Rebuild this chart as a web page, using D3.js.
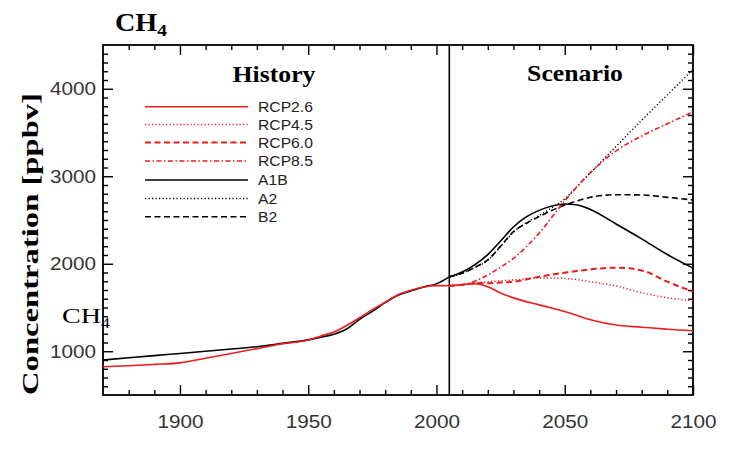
<!DOCTYPE html>
<html>
<head>
<meta charset="utf-8">
<script src="https://cdn.jsdelivr.net/npm/d3@7"></script>
<style>
html,body{margin:0;padding:0;background:#fff;}
svg{display:block;}
</style>
</head>
<body>
<svg id="chart" width="747" height="453"></svg>
<script>
// ---------------- data ----------------
const histYears = [1870,1880,1890,1900,1910,1920,1930,1940,1950,1955,1960,1965,1970,1975,1980,1985,1990,1995,2000,2005];
const histRed   = [823,835,850,867,920,975,1030,1085,1128,1175,1220,1295,1383,1475,1560,1645,1697,1735,1750,1748];
const histBlack = [900,925,950,975,1000,1025,1052,1090,1130,1160,1195,1255,1365,1455,1555,1640,1690,1735,1770,1850];

const rcpYears = [2005,2010,2015,2020,2025,2030,2040,2050,2060,2070,2080,2090,2100];
const rcp26 = [1748,1760,1772,1738,1665,1610,1530,1455,1360,1300,1275,1252,1235];
const rcp45 = [1748,1760,1782,1795,1805,1814,1838,1832,1795,1746,1669,1612,1578];
const rcp60 = [1748,1760,1776,1778,1785,1795,1852,1898,1936,1955,1924,1795,1681];
const rcp85 = [1748,1760,1800,1871,1960,2062,2348,2720,3040,3290,3460,3600,3735];

const sresYears = [2005,2010,2015,2020,2025,2030,2035,2040,2045,2050,2055,2060,2070,2080,2090,2100];
const a1b = [1850,1905,1990,2105,2260,2420,2535,2610,2660,2683,2672,2620,2455,2285,2105,1950];
const a2  = [1850,1890,1960,2040,2200,2360,2470,2550,2640,2740,2890,3040,3340,3640,3930,4220];
const b2  = [1850,1890,1960,2043,2200,2367,2460,2538,2610,2671,2720,2759,2789,2786,2759,2729];

const xMajor = [1900,1950,2000,2050,2100];
const yMajor = [1000,2000,3000,4000];
const scenarioNames = ["RCP2.6","RCP4.5","RCP6.0","RCP8.5","A1B","A2","B2"];

// ---------------- setup ----------------
const RED = "#ee1c1c";
const svg = d3.select("#chart");
const L = 103, R = 693, T = 45, B = 395;
const x = d3.scaleLinear().domain([1870, 2100]).range([L, R]);
const y = d3.scaleLinear().domain([500, 4500]).range([B, T]);

const xMinor = d3.range(1880, 2100, 10).filter(v => !xMajor.includes(v));
const yMinor = d3.range(600, 4500, 100).filter(v => !yMajor.includes(v));

const SX = 1.12; // horizontal stretch of text in the reference
const sans = "'Liberation Sans', Arial, Helvetica, sans-serif";
const serif = "'Liberation Serif', 'Times New Roman', serif";

// ---------------- axes ----------------
function styleAxis(g) {
  g.select(".domain").remove();
  g.selectAll(".tick line").attr("stroke", "#000").attr("stroke-width", 1.4);
}
// bottom
svg.append("g").attr("transform", `translate(0,${B})`)
  .call(d3.axisBottom(x).tickValues(xMajor).tickSize(-10).tickPadding(20).tickFormat(d3.format("d")))
  .call(styleAxis)
  .call(g => g.selectAll("text")
    .attr("font-family", sans).attr("font-size", 18.5).attr("fill", "#333")
    .attr("transform", `scale(${SX},1)`));
svg.append("g").attr("transform", `translate(0,${B})`)
  .call(d3.axisBottom(x).tickValues(xMinor).tickSize(-5).tickFormat(""))
  .call(styleAxis);
// top
svg.append("g").attr("transform", `translate(0,${T})`)
  .call(d3.axisTop(x).tickValues(xMajor).tickSize(-10).tickFormat(""))
  .call(styleAxis);
svg.append("g").attr("transform", `translate(0,${T})`)
  .call(d3.axisTop(x).tickValues(xMinor).tickSize(-5).tickFormat(""))
  .call(styleAxis);
// left
svg.append("g").attr("transform", `translate(${L},0)`)
  .call(d3.axisLeft(y).tickValues(yMajor).tickSize(-10).tickPadding(7).tickFormat(d3.format("d")))
  .call(styleAxis)
  .call(g => g.selectAll("text")
    .attr("font-family", sans).attr("font-size", 18.5).attr("fill", "#333")
    .attr("x", -7 / SX)
    .attr("transform", `scale(${SX},1)`));
svg.append("g").attr("transform", `translate(${L},0)`)
  .call(d3.axisLeft(y).tickValues(yMinor).tickSize(-5).tickFormat(""))
  .call(styleAxis);
// right
svg.append("g").attr("transform", `translate(${R},0)`)
  .call(d3.axisRight(y).tickValues(yMajor).tickSize(-10).tickFormat(""))
  .call(styleAxis);
svg.append("g").attr("transform", `translate(${R},0)`)
  .call(d3.axisRight(y).tickValues(yMinor).tickSize(-5).tickFormat(""))
  .call(styleAxis);

// frame
svg.append("rect").attr("x", L).attr("y", T).attr("width", R - L).attr("height", B - T)
  .attr("fill", "none").attr("stroke", "#000").attr("stroke-width", 1.8);

// divider at 2005
svg.append("line").attr("x1", x(2005)).attr("x2", x(2005)).attr("y1", T).attr("y2", B)
  .attr("stroke", "#000").attr("stroke-width", 1.6);

// ---------------- lines ----------------
const styles = {
  "RCP2.6": {color: RED, dash: null, w: 1.6},
  "RCP4.5": {color: RED, dash: "1.2,2.3", w: 1.5},
  "RCP6.0": {color: RED, dash: "6,3.5", w: 2},
  "RCP8.5": {color: RED, dash: "5,2.5,1.5,2.5", w: 1.6},
  "A1B":    {color: "#000", dash: null, w: 1.6},
  "A2":     {color: "#000", dash: "1.2,2.3", w: 1.4},
  "B2":     {color: "#000", dash: "6,3.5", w: 1.6}
};
const seriesData = {
  "RCP2.6": [rcpYears, rcp26],
  "RCP4.5": [rcpYears, rcp45],
  "RCP6.0": [rcpYears, rcp60],
  "RCP8.5": [rcpYears, rcp85],
  "A1B": [sresYears, a1b],
  "A2": [sresYears, a2],
  "B2": [sresYears, b2]
};
const line = d3.line().x(d => x(d[0])).y(d => y(d[1])).curve(d3.curveMonotoneX);
const zip = (xs, ys) => xs.map((v, i) => [v, ys[i]]);

const plot = svg.append("g");
plot.append("path").attr("d", line(zip(histYears, histBlack)))
  .attr("fill", "none").attr("stroke", "#000").attr("stroke-width", 1.6);
plot.append("path").attr("d", line(zip(histYears, histRed)))
  .attr("fill", "none").attr("stroke", RED).attr("stroke-width", 1.6);

["B2","A2","A1B","RCP6.0","RCP4.5","RCP8.5","RCP2.6"].forEach(name => {
  const s = styles[name];
  const [xs, ys] = seriesData[name];
  plot.append("path").attr("d", line(zip(xs, ys)))
    .attr("fill", "none").attr("stroke", s.color).attr("stroke-width", s.w)
    .attr("stroke-dasharray", s.dash);
});

// ---------------- legend ----------------
const legRows = [106.7, 124.5, 142.5, 161, 180, 198.5, 216.7];
const leg = svg.append("g");
scenarioNames.forEach((name, i) => {
  const s = styles[name];
  leg.append("line").attr("x1", 145).attr("x2", 248).attr("y1", legRows[i]).attr("y2", legRows[i])
    .attr("stroke", s.color).attr("stroke-width", s.w).attr("stroke-dasharray", s.dash);
  leg.append("text").attr("transform", `translate(258,${legRows[i] + 5.3}) scale(${SX},1)`)
    .attr("font-family", sans).attr("font-size", 14).attr("fill", "#222").text(name);
});

// ---------------- texts ----------------
function sub(t, main, subs, size, subSize) {
  t.append("tspan").text(main);
  t.append("tspan").attr("font-size", subSize).attr("dy", size * 0.22).text(subs);
}
const title = svg.append("text").attr("transform", `translate(115,31) scale(1.15,1)`)
  .attr("font-family", serif).attr("font-weight", "bold").attr("font-size", 24.5).attr("fill", "#000");
sub(title, "CH", "4", 24.5, 17);

const inner = svg.append("text").attr("transform", `translate(62,323) scale(1.28,1)`)
  .attr("font-family", serif).attr("font-size", 22).attr("fill", "#000");
sub(inner, "CH", "4", 22, 14);

svg.append("text").attr("transform", `translate(274,81.5) scale(${SX},1)`)
  .attr("text-anchor", "middle").attr("font-family", serif).attr("font-weight", "bold")
  .attr("font-size", 23).attr("fill", "#000").text("History");
svg.append("text").attr("transform", `translate(575,81) scale(${SX},1)`)
  .attr("text-anchor", "middle").attr("font-family", serif).attr("font-weight", "bold")
  .attr("font-size", 23).attr("fill", "#000").text("Scenario");

svg.append("text").attr("transform", "translate(38,244) rotate(-90)")
  .attr("text-anchor", "middle").attr("font-family", serif).attr("font-weight", "bold")
  .attr("font-size", 24).attr("fill", "#000")
  .attr("textLength", 302).attr("lengthAdjust", "spacingAndGlyphs")
  .text("Concentration [ppbv]");
</script>
</body>
</html>
